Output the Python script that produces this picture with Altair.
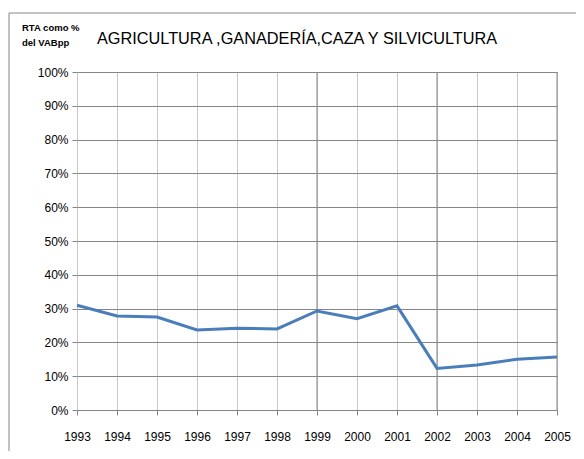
import altair as alt
import pandas as pd

years = list(range(1993, 2006))
values = [31.0, 27.8, 27.5, 23.7, 24.2, 24.0, 29.3, 27.0, 30.8, 12.3, 13.3, 15.0, 15.7]
major_years = [1999, 2002, 2005]
y_ticks = list(range(0, 101, 10))
title_text = "AGRICULTURA ,GANADERÍA,CAZA Y SILVICULTURA"
ylab_lines = ["RTA como %", "del VABpp"]

df = pd.DataFrame({"year": years, "pct": values})
df_major = pd.DataFrame({"year": major_years})
one = pd.DataFrame({"a": [0]})

W, H = 480, 338
FONT = "Liberation Sans"

xscale = alt.Scale(domain=[1993, 2005], nice=False, zero=False)
yscale = alt.Scale(domain=[0, 100], nice=False)

line = alt.Chart(df).mark_line(color="#4a7ebb", strokeWidth=3).encode(
    x=alt.X("year:Q", scale=xscale,
            axis=alt.Axis(values=years, format="d", title=None, labelFontSize=12,
                          labelColor="#000", labelFont=FONT, gridColor="#c8c8c8",
                          tickColor="#868686", tickSize=5, domain=False,
                          labelPadding=16, labelFlush=False, labelOverlap=False,
                          tickCount=13)),
    y=alt.Y("pct:Q", scale=yscale,
            axis=alt.Axis(values=y_ticks, labelExpr="datum.value + '%'", title=None,
                          labelFontSize=12, labelColor="#000", labelFont=FONT,
                          gridColor="#868686", tickColor="#868686", tickSize=5,
                          domain=False, labelPadding=4, labelOverlap=False)),
)

major = alt.Chart(df_major).mark_rule(color="#868686", strokeWidth=1).encode(
    x=alt.X("year:Q", scale=xscale)
)

frame_left = alt.Chart(one).mark_rule(color="#868686", strokeWidth=1).encode(
    x=alt.value(-68), y=alt.value(-59), y2=alt.value(H + 60)
)
frame_top = alt.Chart(one).mark_rule(color="#868686", strokeWidth=1).encode(
    x=alt.value(-68), x2=alt.value(W + 40), y=alt.value(-59)
)

title = alt.Chart(one).mark_text(
    text=title_text, align="left", baseline="middle", fontSize=16.3,
    font=FONT, color="#000"
).encode(x=alt.value(20), y=alt.value(-33))

lab1 = alt.Chart(one).mark_text(
    text=ylab_lines[0], align="left", baseline="middle", fontSize=9.5, font=FONT,
    fontWeight="bold", color="#000"
).encode(x=alt.value(-55), y=alt.value(-44))
lab2 = alt.Chart(one).mark_text(
    text=ylab_lines[1], align="left", baseline="middle", fontSize=9.5, font=FONT,
    fontWeight="bold", color="#000"
).encode(x=alt.value(-55), y=alt.value(-29))

chart = alt.layer(major, line, frame_left, frame_top, title, lab1, lab2).properties(
    width=W, height=H,
    autosize=alt.AutoSizeParams(type="none"),
    padding={"left": 69, "top": 64, "right": 19, "bottom": 41},
).configure_view(stroke=None).configure(background="white")

chart.save("out.html", embed_options={"renderer": "svg", "actions": False})
